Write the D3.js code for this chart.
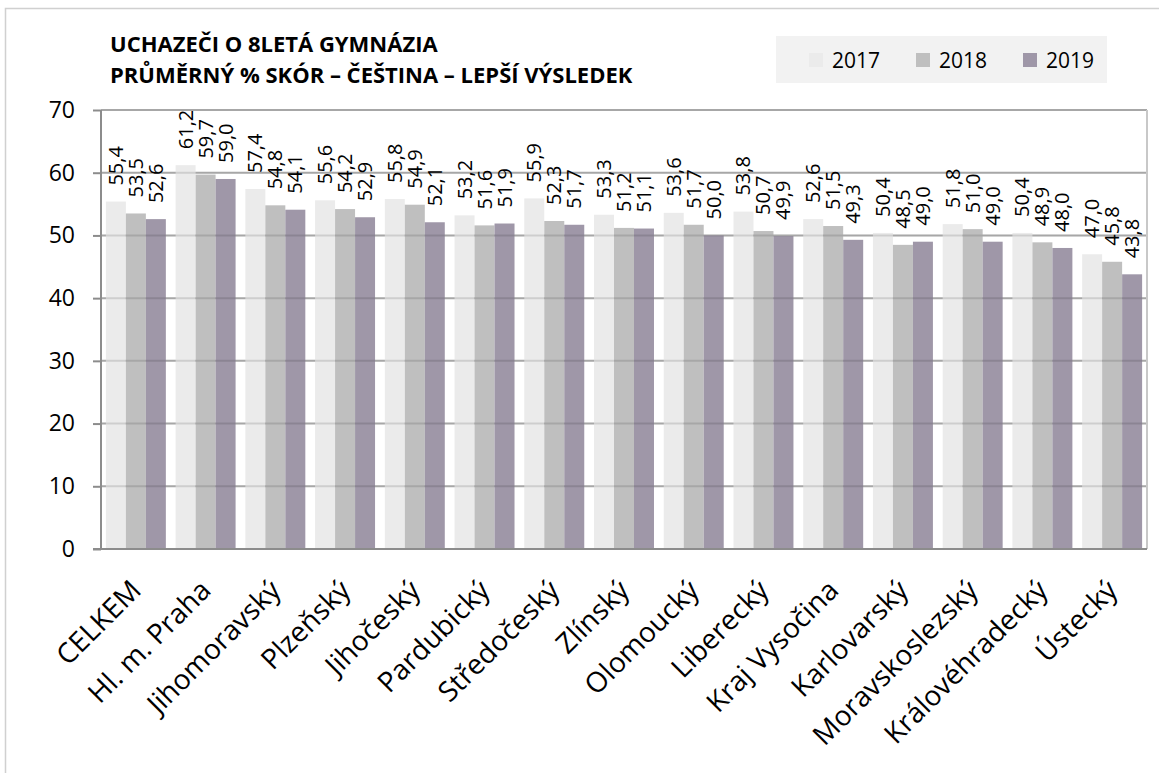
<!DOCTYPE html>
<html><head><meta charset="utf-8">
<script src="https://cdn.jsdelivr.net/npm/d3@7"></script>
<style>
body{margin:0;background:#fff;}
text{font-family:"Open Sans",sans-serif;}
</style></head>
<body>
<svg id="chart" width="1159" height="773"></svg>
<script>
const categories = ["CELKEM","Hl. m. Praha","Jihomoravský","Plzeňský","Jihočeský","Pardubický","Středočeský","Zlínský","Olomoucký","Liberecký","Kraj Vysočina","Karlovarský","Moravskoslezský","Královéhradecký","Ústecký"];
const years = ["2017","2018","2019"];
const values2017 = [55.4,61.2,57.4,55.6,55.8,53.2,55.9,53.3,53.6,53.8,52.6,50.4,51.8,50.4,47.0];
const values2018 = [53.5,59.7,54.8,54.2,54.9,51.6,52.3,51.2,51.7,50.7,51.5,48.5,51.0,48.9,45.8];
const values2019 = [52.6,59.0,54.1,52.9,52.1,51.9,51.7,51.1,50.0,49.9,49.3,49.0,49.0,48.0,43.8];
const yTicks = [0,10,20,30,40,50,60,70];
const titleLines = ["UCHAZEČI O 8LETÁ GYMNÁZIA","PRŮMĚRNÝ % SKÓR – ČEŠTINA – LEPŠÍ VÝSLEDEK"];
const colors = ["#ebebeb","#bfbfbf","#9f97a8"];

const series = [values2017, values2018, values2019];
const svg = d3.select("#chart");
const L = 101, R = 1147, T = 110, B = 549;

// outer border
svg.append("rect").attr("x",5.5).attr("y",8.5).attr("width",1200).attr("height",800)
  .attr("fill","none").attr("stroke","#d0d0d0").attr("stroke-width",1.5);

const x0 = d3.scaleBand().domain(categories).range([L,R]).paddingInner(0.14).paddingOuter(0.07);
const x1 = d3.scaleBand().domain(years).range([0,x0.bandwidth()]);
const y = d3.scaleLinear().domain([0,70]).range([B,T]);

// grid lines (behind)
const grid = svg.append("g");
// bars
const groups = svg.append("g").selectAll("g").data(categories).join("g")
  .attr("transform", d => `translate(${x0(d)},0)`);
groups.selectAll("rect").data((d,i) => years.map((yr,j)=>({yr, v: series[j][i]})))
  .join("rect")
  .attr("x", d => x1(d.yr))
  .attr("y", d => y(d.v))
  .attr("width", x1.bandwidth())
  .attr("height", d => B - y(d.v))
  .attr("fill", (d,j) => colors[j]);

grid.selectAll("line").data(yTicks.filter(t=>t>0)).join("line")
  .attr("x1",L).attr("x2",R).attr("y1",d=>y(d)).attr("y2",d=>y(d))
  .attr("stroke","#bfbfbf").attr("stroke-width",2);
// gridlines over bars (semi-transparent)
svg.append("g").selectAll("line").data(yTicks.filter(t=>t>0)).join("line")
  .attr("x1",L).attr("x2",R).attr("y1",d=>y(d)).attr("y2",d=>y(d))
  .attr("stroke","#000").attr("stroke-opacity",0.12).attr("stroke-width",2);

// right border of plot
svg.append("line").attr("x1",R).attr("x2",R).attr("y1",T).attr("y2",B)
  .attr("stroke","#c8c8c8").attr("stroke-width",2);

// y axis
const yAxis = d3.axisLeft(y).tickValues(yTicks).tickSize(8).tickFormat(d3.format("d"));
const ya = svg.append("g").attr("transform",`translate(${L},0)`).call(yAxis);
ya.select(".domain").attr("stroke","#8c8c8c").attr("stroke-width",2).attr("d",`M0,${T}V${B}`);
ya.selectAll(".tick line").attr("stroke","#8c8c8c").attr("stroke-width",2);
ya.selectAll(".tick text").attr("font-size",23).attr("font-family","Open Sans").attr("fill","#000").attr("x",-26);

// x axis baseline
const xAxis = d3.axisBottom(x0).tickSize(0).tickPadding(0);
const xa = svg.append("g").attr("transform",`translate(0,${B})`).call(xAxis);
xa.select(".domain").attr("stroke","#8c8c8c").attr("stroke-width",2).attr("d",`M${L-8},0H${R}`);
xa.selectAll(".tick text")
  .attr("font-size",28).attr("font-family","Open Sans").attr("fill","#000")
  .attr("text-anchor","end").attr("dy",0).attr("y",0)
  .attr("transform","translate(7,43) rotate(-45)");

// data labels
groups.selectAll("text.lbl").data((d,i) => years.map((yr,j)=>({yr, v: series[j][i]})))
  .join("text").attr("class","lbl")
  .attr("transform", d => `translate(${x1(d.yr)+x1.bandwidth()/2+7},${y(d.v)-16}) rotate(-90)`)
  .attr("font-size",20).attr("fill","#000")
  .text(d => d3.format(".1f")(d.v).replace(".",","));

// title
svg.append("g").selectAll("text").data(titleLines).join("text")
  .attr("x",110).attr("y",(d,i)=>52+i*31)
  .attr("font-size",22).attr("font-weight","bold").attr("fill","#000")
  .text(d=>d);

// legend
const lg = svg.append("g");
lg.append("rect").attr("x",776).attr("y",36).attr("width",331).attr("height",47).attr("fill","#f2f2f2");
const li = lg.selectAll("g").data(years).join("g")
  .attr("transform",(d,i)=>`translate(${809+i*107},60)`);
li.append("rect").attr("x",0).attr("y",-7).attr("width",14).attr("height",14).attr("fill",(d,i)=>colors[i]);
li.append("text").attr("x",23).attr("y",7.5).attr("font-size",21).attr("fill","#000").text(d=>d);
</script>
</body></html>
